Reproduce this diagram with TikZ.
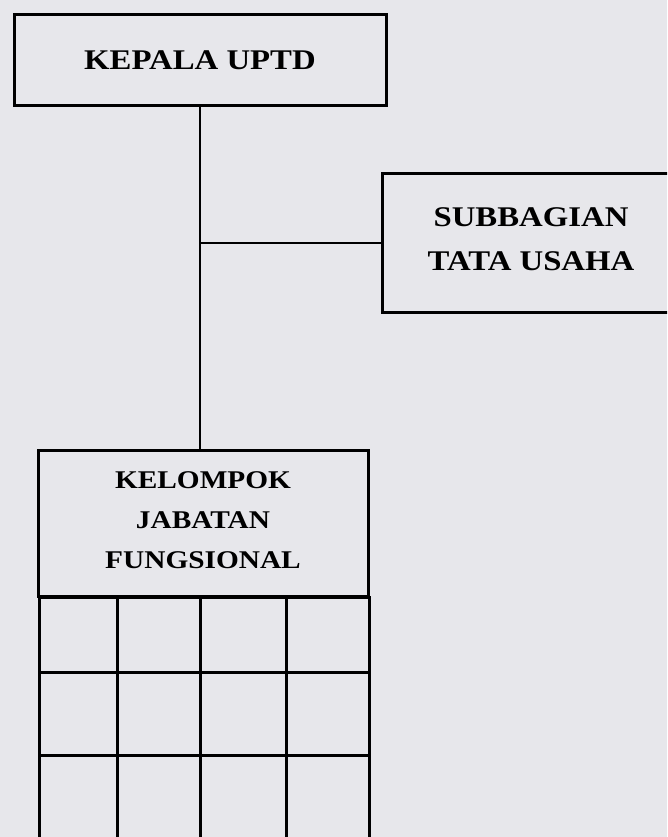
\documentclass[tikz,border=0pt]{standalone}
\usepackage{fontspec}
\usetikzlibrary{positioning}
\newfontfamily\orgfont{Liberation Serif}[FakeStretch=1.15]
\definecolor{papercolor}{RGB}{231,231,235}

\begin{document}
\begin{tikzpicture}[
    x=1pt, y=-1pt,
    unit/.style={rectangle, draw=black, line width=3pt, align=center, inner sep=0pt},
    bigunit/.style={unit, font=\orgfont\bfseries\fontsize{28.5}{44}\selectfont},
    smallunit/.style={unit, font=\orgfont\bfseries\fontsize{25.5}{40}\selectfont},
    cell/.style={rectangle, draw=black, line width=3pt, inner sep=0pt, minimum height=80pt},
    link/.style={draw=black, line width=1.6pt}
]

% Paper and frame
\fill[papercolor] (0,0) rectangle (667,837);
\clip (0,0) rectangle (667,837);

% Head of the unit
\node[bigunit, minimum width=372pt, minimum height=91pt] (kepala) at (200,60) {KEPALA UPTD};

% Administration (cut at the right edge)
\node[bigunit, minimum width=298pt, minimum height=138pt, text depth=8pt] (subbag) at (531,243) {SUBBAGIAN\\TATA USAHA};

% Functional group
\node[smallunit, minimum width=330pt, minimum height=146pt, text depth=6pt] (kelompok) at (203,523) {KELOMPOK\\JABATAN\\FUNGSIONAL};

% Grid below the functional group
\foreach \row/\ytop/\yh in {1/596/75, 2/671/83, 3/754/100}{
    \foreach \col/\xl/\xw in {1/38/78, 2/116/83, 3/199/86, 4/285/83}{
        \node[cell, minimum width=\xw pt, minimum height=\yh pt, anchor=north west] (cell-\row-\col) at (\xl,\ytop) {};
    }
}

% Connectors
\draw[link] (kepala.south) -- (kepala.south |- kelompok.north);
\draw[link] (subbag.west) -- (subbag.west -| kepala.south);

\end{tikzpicture}
\end{document}
